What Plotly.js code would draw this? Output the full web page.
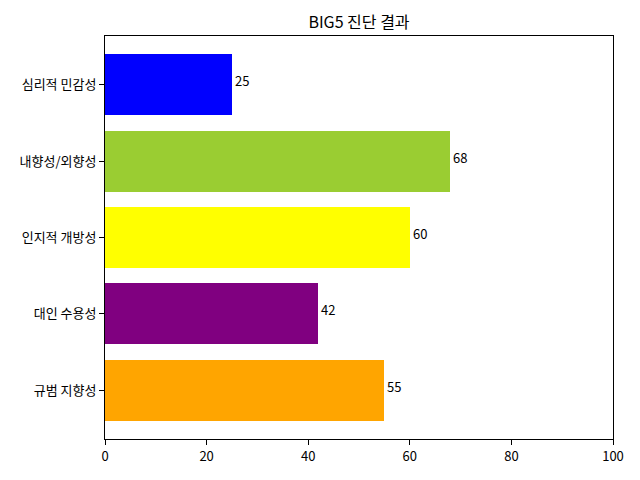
<!DOCTYPE html>
<html>
<head>
<meta charset="utf-8">
<script src="https://cdn.plot.ly/plotly-3.0.1.min.js"></script>
<style>html,body{margin:0;padding:0;background:#fff;}</style>
</head>
<body>
<div id="chart" style="width:640px;height:480px;"></div>
<script>
const categories = ["규범 지향성", "대인 수용성", "인지적 개방성", "내향성/외향성", "심리적 민감성"];
const scores = [55, 42, 60, 68, 25];
const barColors = ["orange", "purple", "yellow", "yellowgreen", "blue"];
const xTicks = [0, 20, 40, 60, 80, 100];

const FONT = "Noto Sans CJK KR, DejaVu Sans, sans-serif";

const trace = {
  type: "bar",
  orientation: "h",
  y: categories.map((c, i) => i),
  x: scores,
  width: 0.8,
  marker: {color: barColors, line: {width: 0}},
  hoverinfo: "none",
  showlegend: false
};

const annotations = scores.map((v, i) => ({
  x: v, y: i, xref: "x", yref: "y",
  text: String(v), showarrow: false,
  xanchor: "left", yanchor: "middle",
  xshift: 1, yshift: 4,
  font: {family: FONT, size: 13, color: "#000"}
}));

const layout = {
  width: 640, height: 480,
  margin: {l: 105, r: 27, t: 36, b: 41, pad: 0},
  paper_bgcolor: "#fff", plot_bgcolor: "#fff",
  title: {text: "BIG5 진단 결과", font: {family: FONT, size: 16, color: "#000"}, xref: "paper", x: 0.5, xanchor: "center", y: 0.953, yanchor: "middle"},
  font: {family: FONT, size: 13, color: "#000"},
  xaxis: {
    range: [0, 100], tickvals: xTicks, ticktext: xTicks.map(String),
    showgrid: false, zeroline: false,
    showline: true, linecolor: "#000", linewidth: 1, mirror: true,
    ticks: "outside", ticklen: 5, tickcolor: "#000", tickwidth: 1,
    tickfont: {family: FONT, size: 13, color: "#000"}
  },
  yaxis: {
    range: [-0.64, 4.64], tickvals: categories.map((c, i) => i), ticktext: categories,
    showgrid: false, zeroline: false,
    showline: true, linecolor: "#000", linewidth: 1, mirror: true,
    ticks: "outside", ticklen: 5, tickcolor: "#000", tickwidth: 1,
    tickfont: {family: FONT, size: 13, color: "#000"}
  },
  annotations: annotations,
  bargap: 0
};

Plotly.newPlot("chart", [trace], layout, {staticPlot: true, displayModeBar: false});
</script>
</body>
</html>
